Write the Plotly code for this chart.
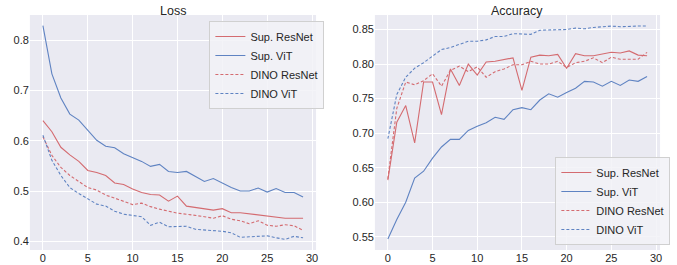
import plotly.graph_objects as go

epochs = list(range(30))

loss_sup_resnet = [0.640, 0.618, 0.587, 0.572, 0.559, 0.541, 0.537, 0.531, 0.516, 0.513,
                   0.504, 0.497, 0.493, 0.492, 0.480, 0.490, 0.470, 0.467, 0.464, 0.462,
                   0.465, 0.457, 0.457, 0.455, 0.452, 0.450, 0.449, 0.446, 0.446, 0.446]
loss_sup_vit = [0.829, 0.733, 0.685, 0.653, 0.641, 0.620, 0.601, 0.589, 0.586, 0.574,
                0.567, 0.559, 0.549, 0.553, 0.539, 0.537, 0.539, 0.529, 0.519, 0.525,
                0.516, 0.507, 0.500, 0.500, 0.506, 0.498, 0.505, 0.497, 0.497, 0.488]
loss_dino_resnet = [0.608, 0.571, 0.547, 0.531, 0.519, 0.507, 0.502, 0.492, 0.486, 0.480,
                    0.473, 0.476, 0.469, 0.464, 0.460, 0.456, 0.454, 0.452, 0.449, 0.446,
                    0.451, 0.444, 0.441, 0.435, 0.441, 0.432, 0.430, 0.433, 0.431, 0.422]
loss_dino_vit = [0.611, 0.561, 0.531, 0.507, 0.495, 0.484, 0.474, 0.470, 0.460, 0.454,
                 0.452, 0.449, 0.432, 0.438, 0.429, 0.430, 0.430, 0.424, 0.423, 0.422,
                 0.420, 0.417, 0.408, 0.409, 0.410, 0.411, 0.407, 0.404, 0.410, 0.407]

acc_sup_resnet = [0.632, 0.716, 0.740, 0.686, 0.774, 0.774, 0.727, 0.793, 0.769, 0.800,
                  0.784, 0.803, 0.804, 0.807, 0.809, 0.762, 0.810, 0.813, 0.812, 0.814,
                  0.794, 0.815, 0.812, 0.812, 0.814, 0.817, 0.816, 0.819, 0.813, 0.812]
acc_sup_vit = [0.547, 0.575, 0.600, 0.635, 0.645, 0.664, 0.680, 0.691, 0.691, 0.704,
               0.710, 0.715, 0.723, 0.720, 0.734, 0.737, 0.734, 0.748, 0.757, 0.752,
               0.759, 0.765, 0.775, 0.774, 0.768, 0.775, 0.769, 0.777, 0.775, 0.782]
acc_dino_resnet = [0.634, 0.736, 0.774, 0.770, 0.776, 0.786, 0.768, 0.791, 0.797, 0.789,
                   0.796, 0.781, 0.789, 0.793, 0.799, 0.799, 0.804, 0.800, 0.800, 0.804,
                   0.795, 0.802, 0.804, 0.809, 0.802, 0.810, 0.807, 0.807, 0.807, 0.817]
acc_dino_vit = [0.692, 0.756, 0.781, 0.794, 0.802, 0.812, 0.821, 0.824, 0.829, 0.833,
                0.833, 0.835, 0.840, 0.840, 0.844, 0.843, 0.843, 0.849, 0.849, 0.849,
                0.850, 0.852, 0.851, 0.853, 0.854, 0.855, 0.854, 0.855, 0.855, 0.855]

names = ["Sup. ResNet", "Sup. ViT", "DINO ResNet", "DINO ViT"]
RED = "#D46B70"
BLUE = "#5F83C2"
styles = [(RED, "solid"), (BLUE, "solid"), (RED, "3px,2px"), (BLUE, "3px,2px")]

FONT = "Liberation Sans, Arial, sans-serif"
TXT = "#262626"

fig = go.Figure()
loss_series = [loss_sup_resnet, loss_sup_vit, loss_dino_resnet, loss_dino_vit]
acc_series = [acc_sup_resnet, acc_sup_vit, acc_dino_resnet, acc_dino_vit]

for name, ys, (c, d) in zip(names, loss_series, styles):
    fig.add_trace(go.Scatter(x=epochs, y=ys, mode="lines", name=name,
                             line=dict(color=c, width=1.1, dash=d),
                             xaxis="x", yaxis="y", legend="legend"))
for name, ys, (c, d) in zip(names, acc_series, styles):
    fig.add_trace(go.Scatter(x=epochs, y=ys, mode="lines", name=name,
                             line=dict(color=c, width=1.1, dash=d),
                             xaxis="x2", yaxis="y2", legend="legend2"))

ax_common = dict(showgrid=True, gridcolor="white", gridwidth=1, zeroline=False,
                 showline=False, ticks="", tickfont=dict(size=11, color=TXT, family=FONT))

ytop = 1 - 15 / 265
ybot = 1 - 250 / 265

fig.update_layout(
    width=677, height=265,
    margin=dict(l=0, r=0, t=0, b=0),
    paper_bgcolor="white",
    plot_bgcolor="#EAEAF2",
    font=dict(family=FONT, color=TXT),
    xaxis=dict(domain=[30 / 677, 317 / 677], range=[-1.45, 30.45],
               tickvals=[0, 5, 10, 15, 20, 25, 30], anchor="y", **ax_common),
    yaxis=dict(domain=[ybot, ytop], range=[0.3828, 0.8500],
               tickvals=[0.4, 0.5, 0.6, 0.7, 0.8], tickformat=".1f", anchor="x", **ax_common),
    xaxis2=dict(domain=[376 / 677, 662 / 677], range=[-1.45, 30.45],
                tickvals=[0, 5, 10, 15, 20, 25, 30], anchor="y2", **ax_common),
    yaxis2=dict(domain=[ybot, ytop], range=[0.531, 0.871],
                tickvals=[0.55, 0.60, 0.65, 0.70, 0.75, 0.80, 0.85], tickformat=".2f",
                anchor="x2", **ax_common),
    legend=dict(x=210 / 677, y=1 - 21 / 265, xanchor="left", yanchor="top",
                bgcolor="rgba(242,242,247,0.85)", bordercolor="#D0D0D0", borderwidth=1,
                font=dict(size=11, color=TXT, family=FONT), tracegroupgap=0,
                itemwidth=30),
    legend2=dict(x=557 / 677, y=1 - 245 / 265, xanchor="left", yanchor="bottom",
                 bgcolor="rgba(242,242,247,0.85)", bordercolor="#D0D0D0", borderwidth=1,
                 font=dict(size=11, color=TXT, family=FONT), tracegroupgap=0,
                 itemwidth=30),
    annotations=[
        dict(text="Loss", x=(30 + 317) / 2 / 677, y=1 - 11 / 265, xref="paper", yref="paper",
             showarrow=False, font=dict(size=12.5, color=TXT, family=FONT),
             xanchor="center", yanchor="middle"),
        dict(text="Accuracy", x=(376 + 662) / 2 / 677, y=1 - 11 / 265, xref="paper", yref="paper",
             showarrow=False, font=dict(size=12.5, color=TXT, family=FONT),
             xanchor="center", yanchor="middle"),
    ],
)

fig.write_html("out.html", config={"displayModeBar": False},
               post_script="document.body.style.margin='0px';document.body.style.padding='0px';")
